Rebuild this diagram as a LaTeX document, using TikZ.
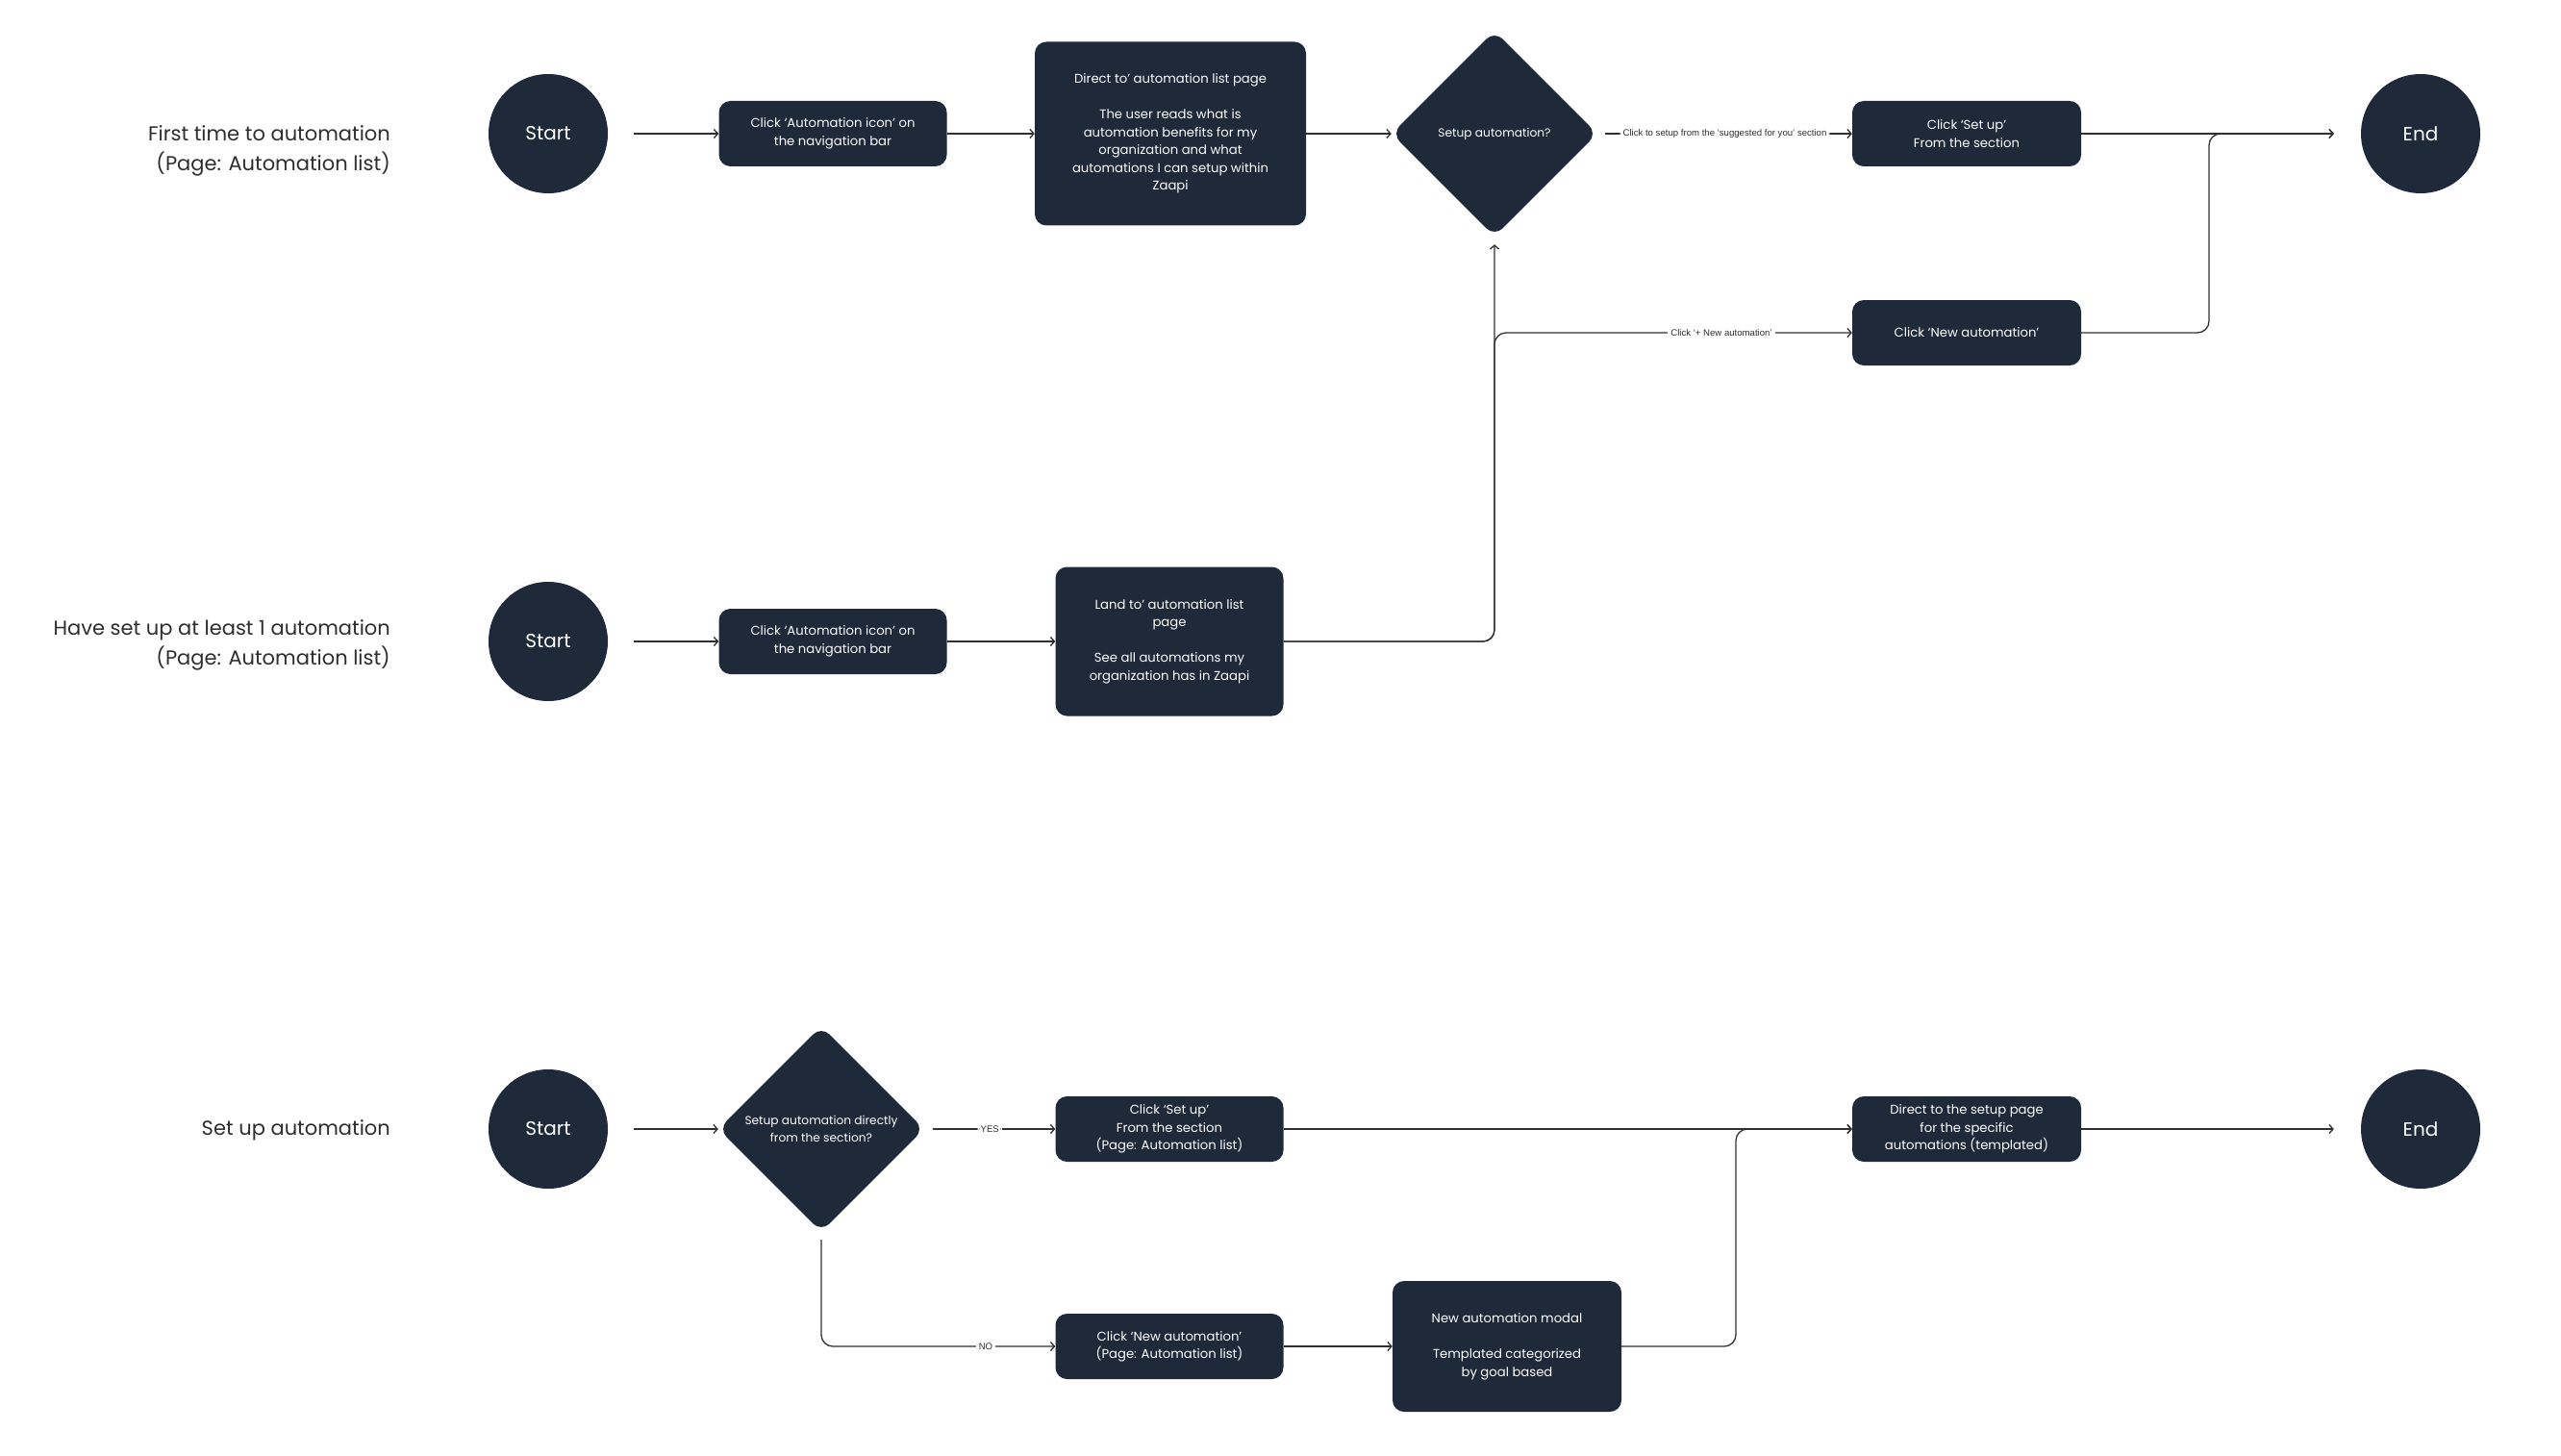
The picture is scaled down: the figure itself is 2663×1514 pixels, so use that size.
\documentclass[tikz,border=0pt]{standalone}
\usepackage{fontspec}
\setmainfont{Poppins}
\newfontfamily\lblfont{Liberation Sans}
\usetikzlibrary{arrows.meta,shapes.geometric}
\definecolor{navy}{HTML}{1E2A3A}
\definecolor{ink}{HTML}{2E2E2E}
\definecolor{wire}{HTML}{303030}
\tikzset{
  boxnode/.style={rectangle, rounded corners=12pt, fill=navy, text=white, align=center,
    inner sep=0pt, font=\fontsize{13.2}{18.5}\selectfont},
  termnode/.style={circle, fill=navy, text=white, minimum size=124pt, inner sep=0pt,
    font=\fontsize{20}{24}\selectfont},
  decnode/.style={diamond, aspect=1, fill=navy, text=white, rounded corners=12pt,
    minimum width=214pt, minimum height=214pt, inner sep=0pt, align=center,
    font=\fontsize{12.2}{18}\selectfont},
  rowlabel/.style={anchor=east, align=right, text=ink, inner sep=0pt,
    font=\fontsize{21}{31}\selectfont},
  flow/.style={draw=wire, line width=1.3pt, -{Straight Barb[length=4pt,width=9pt]},
    rounded corners=12pt},
  edgelbl/.style={fill=white, text=wire, inner sep=3pt,
    font=\lblfont\fontsize{9.6}{11}\selectfont},
}
\begin{document}
\begin{tikzpicture}[x=1pt,y=-1pt]
\useasboundingbox (0,0) rectangle (2663,1514);

% ---------- Row 1 ----------
\node[rowlabel] (r1) at (406,157) {First time to automation\\(Page: Automation list)};
\node[termnode] (s1) at (570,139) {Start};
\node[boxnode, minimum width=237pt, minimum height=68pt] (b1) at (866,139)
  {Click ‘Automation icon’ on\\the navigation bar};
\node[boxnode, minimum width=282pt, minimum height=191pt] (b2) at (1217,139)
  {Direct to’ automation list page\\[18.5pt]The user reads what is\\automation benefits for my\\organization and what\\automations I can setup within\\Zaapi};
\node[decnode] (d1) at (1554,139) {Setup automation?};
\node[boxnode, minimum width=238pt, minimum height=68pt] (b3) at (2045,139)
  {Click ‘Set up’\\From the section};
\node[termnode] (e1) at (2517,139) {End};
\node[boxnode, minimum width=238pt, minimum height=68pt] (b4) at (2045,346)
  {Click ‘New automation’};

\draw[flow, shorten <=27pt] (s1) -- (b1);
\draw[flow] (b1) -- (b2);
\draw[flow] (b2) -- (d1);
\draw[flow, shorten <=8pt] (d1) -- node[edgelbl] (lb1) {Click to setup from the ‘suggested for you’ section} (b3);
\draw[flow, shorten >=28pt] (b3) -- (e1);
\coordinate (j1) at (2297,346);
\coordinate (j2) at (2297,139);
\draw[flow, shorten >=28pt] (b4.east) -- (j1) -- (j2) -- (e1.west);

% ---------- Row 2 ----------
\node[rowlabel] (r2) at (406,671) {Have set up at least 1 automation\\(Page: Automation list)};
\node[termnode] (s2) at (570,667) {Start};
\node[boxnode, minimum width=237pt, minimum height=68pt] (b5) at (866,667)
  {Click ‘Automation icon’ on\\the navigation bar};
\node[boxnode, minimum width=237pt, minimum height=155pt] (l2) at (1216,667)
  {Land to’ automation list\\page\\[18.5pt]See all automations my\\organization has in Zaapi};

\draw[flow, shorten <=27pt] (s2) -- (b5);
\draw[flow] (b5) -- (l2);
\coordinate (k1) at (1554,667);
\coordinate (k2) at (1554,346);
\draw[flow, shorten >=8pt] (l2.east) -- (k1) -- (d1.south);
\draw[flow] (l2.east) -- (k1) -- (k2) -- (b4.west);
\node[edgelbl] (lb2) at (1790,346) {Click ‘+ New automation’};

% ---------- Row 3 ----------
\node[rowlabel] (r3) at (406,1175) {Set up automation};
\node[termnode] (s3) at (570,1174) {Start};
\node[decnode] (d3) at (854,1174) {Setup automation directly\\from the section?};
\node[boxnode, minimum width=237pt, minimum height=68pt] (y3) at (1216,1174)
  {Click ‘Set up’\\From the section\\(Page: Automation list)};
\node[boxnode, minimum width=237pt, minimum height=68pt] (n3) at (1216,1400)
  {Click ‘New automation’\\(Page: Automation list)};
\node[boxnode, minimum width=238pt, minimum height=136pt] (m3) at (1567,1400)
  {New automation modal\\[18.5pt]Templated categorized\\by goal based};
\node[boxnode, minimum width=238pt, minimum height=68pt] (dir3) at (2045,1174)
  {Direct to the setup page\\for the specific\\automations (templated)};
\node[termnode] (e3) at (2517,1174) {End};

\draw[flow, shorten <=27pt] (s3) -- (d3);
\draw[flow, shorten <=9pt] (d3) -- node[edgelbl] (lyes) {YES} (y3);
\coordinate (q1) at (854,1400);
\draw[flow, shorten <=8pt] (d3.south) -- (q1) -- (n3.west);
\node[edgelbl] (lno) at (1025,1400) {NO};
\draw[flow] (n3) -- (m3);
\draw[flow] (y3) -- (dir3);
\coordinate (q2) at (1805,1400);
\coordinate (q3) at (1805,1174);
\draw[flow] (m3.east) -- (q2) -- (q3) -- (dir3.west);
\draw[flow, shorten >=28pt] (dir3) -- (e3);
\end{tikzpicture}
\end{document}
